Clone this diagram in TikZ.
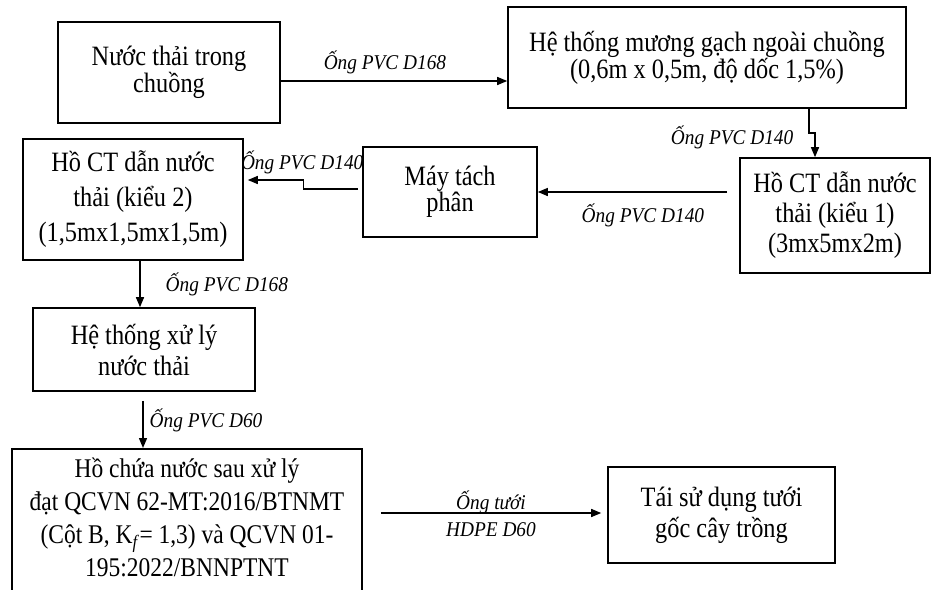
\documentclass[tikz,border=0pt]{standalone}
\usepackage{fontspec}
\setmainfont[FakeStretch=0.87]{Liberation Serif}
\newfontfamily\lblfont[FakeStretch=0.92]{Liberation Serif}
\usetikzlibrary{calc,arrows.meta}
\tikzset{
  box/.style={draw, line width=1.6pt, align=center, inner sep=0pt, font=\fontsize{28}{27}\selectfont},
  lbl/.style={font=\lblfont\fontsize{21}{22}\selectfont\itshape, inner sep=0pt},
  arr/.style={line width=1.4pt, -{Triangle[length=10pt,width=8pt]}}
}
\begin{document}
\begin{tikzpicture}[x=1pt,y=-1pt]
\useasboundingbox (0,0) rectangle (931,589);
\clip (0,0) rectangle (931,589);
% boxes
\node[box, minimum width=222pt, minimum height=101pt] (A) at (169,72.5) {Nước thải trong\\chuồng};
\node[box, minimum width=398pt, minimum height=101pt, font=\fontsize{28}{27}\selectfont] (B) at (707,57.5) {Hệ thống mương gạch ngoài chuồng\\(0,6m x 0,5m, độ dốc 1,5\%)};
\node[box, minimum width=190pt, minimum height=115pt, font=\fontsize{28}{30}\selectfont] (C) at (835,215.5) {Hồ CT dẫn nước\\thải (kiểu 1)\\(3mx5mx2m)};
\node[box, minimum width=174pt, minimum height=90pt, font=\fontsize{28}{26}\selectfont] (D) at (450,192) {Máy tách\\phân};
\node[box, minimum width=220pt, minimum height=121pt, font=\fontsize{28}{35}\selectfont] (E) at (133,199.5) {Hồ CT dẫn nước\\thải (kiểu 2)\\(1,5mx1,5mx1,5m)};
\node[box, minimum width=222pt, minimum height=83pt, font=\fontsize{28}{31}\selectfont] (F) at (144,349.5) {Hệ thống xử lý\\nước thải};
\node[box, minimum width=350pt, inner ysep=9pt, anchor=north, font=\fontsize{27}{33}\selectfont] (G) at (187,448) {Hồ chứa nước sau xử lý\\đạt QCVN 62-MT:2016/BTNMT\\(Cột B, K\textsubscript{\textit{f}}= 1,3) và QCVN 01-\\195:2022/BNNPTNT\\\mbox{}};
\node[box, minimum width=227pt, minimum height=96pt, font=\fontsize{28}{31}\selectfont] (H) at (721.5,515) {Tái sử dụng tưới\\gốc cây trồng};
% connectors
\draw[arr] ([yshift=-8.5pt]A.east) coordinate (a1) -- (a1 -| B.west)
  node[lbl, pos=0.46, yshift=19pt] {Ống PVC D168};
\draw[arr] ([xshift=102pt]B.south) -- ++(0,24)
  node[lbl, anchor=east, xshift=-15pt, yshift=-5pt] {Ống PVC D140}
  -| ([xshift=-20pt]C.north);
\coordinate (c1) at ($(C.west |- D.east)+(-12,0)$);
\draw[arr] (c1) -- (D.east) node[lbl, pos=0.445, yshift=-23pt] {Ống PVC D140};
\draw[arr] ($(D.west)+(-4,-3)$) -- ++(-55,0)
  node[lbl, xshift=-1pt, yshift=27pt] {Ống PVC D140}
  |- ($(E.east)+(4,-19.5)$);
\coordinate (e1) at ([xshift=7pt]E.south);
\draw[arr] (e1) -- (e1 |- F.north) node[lbl, midway, anchor=west, xshift=25pt] {Ống PVC D168};
\coordinate (f1) at ($(F.south)+(-1,9)$);
\draw[arr] (f1) -- (f1 |- G.north) node[lbl, midway, anchor=west, xshift=6pt, yshift=4pt] {Ống PVC D60};
\coordinate (g1) at ($(G.east |- H.west)+(18,-2)$);
\draw[arr] (g1) -- ($(g1 -| H.west)+(-6,0)$)
  node[lbl, midway, yshift=11pt] {Ống tưới}
  node[lbl, midway, yshift=-17pt] {HDPE D60};
\end{tikzpicture}
\end{document}
